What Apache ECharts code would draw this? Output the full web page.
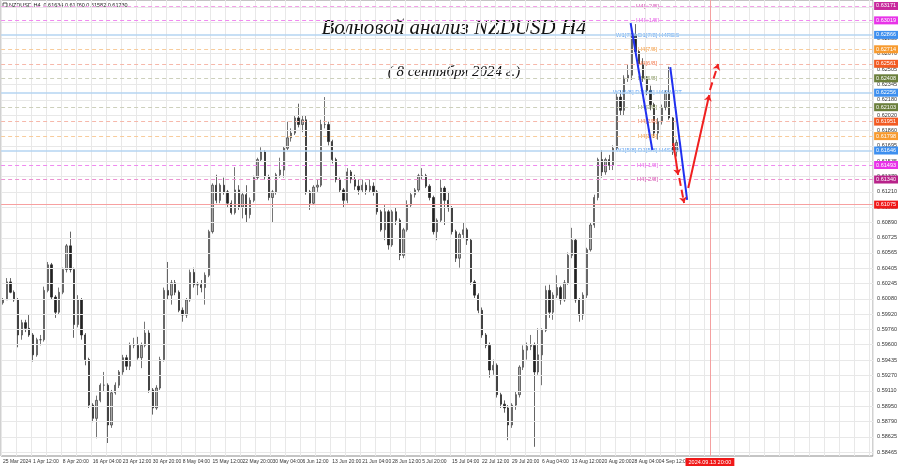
<!DOCTYPE html>
<html><head><meta charset="utf-8">
<script src="https://cdn.jsdelivr.net/npm/echarts@6/dist/echarts.min.js"></script>
<style>html,body{margin:0;padding:0;background:#fff}#c{width:900px;height:468px}</style>
</head><body><div id="c"></div>
<script>
// ---- DATA ----
const openP = [0.6004,0.6007,0.6026,0.6015,0.6007,0.5970,0.5983,0.5977,0.5970,0.5949,
0.5965,0.5965,0.6017,0.6044,0.6010,0.5994,0.6015,0.6039,0.6064,0.6039,
0.5981,0.6007,0.5970,0.5944,0.5896,0.5882,0.5901,0.5917,0.5917,0.5875,
0.5909,0.5917,0.5931,0.5946,0.5937,0.5959,0.5959,0.5946,0.5959,0.5972,
0.5912,0.5893,0.5914,0.5944,0.6017,0.6012,0.6025,0.6015,0.5996,0.5991,
0.6007,0.6036,0.6023,0.6023,0.6020,0.6033,0.6079,0.6128,0.6112,0.6128,
0.6121,0.6109,0.6099,0.6123,0.6105,0.6118,0.6097,0.6112,0.6136,0.6155,
0.6163,0.6137,0.6115,0.6121,0.6139,0.6144,0.6167,0.6178,0.6183,0.6199,
0.6192,0.6197,0.6121,0.6109,0.6126,0.6128,0.6192,0.6192,0.6174,0.6155,
0.6134,0.6123,0.6112,0.6142,0.6134,0.6127,0.6123,0.6128,0.6123,0.6127,
0.6121,0.6100,0.6081,0.6100,0.6065,0.6100,0.6091,0.6054,0.6081,0.6107,
0.6118,0.6123,0.6138,0.6138,0.6127,0.6115,0.6079,0.6091,0.6125,0.6112,
0.6104,0.6079,0.6051,0.6076,0.6081,0.6070,0.6026,0.6012,0.5996,0.5970,
0.5959,0.5933,0.5938,0.5907,0.5897,0.5893,0.5875,0.5896,0.5907,0.5936,
0.5954,0.5958,0.5959,0.5931,0.5949,0.5975,0.6017,0.5994,0.6012,0.6020,
0.6007,0.6025,0.6054,0.6070,0.6007,0.5991,0.6012,0.6060,0.6086,0.6115,
0.6155,0.6142,0.6155,0.6149,0.6167,0.6221,0.6207,0.6241,0.6244,0.6287,
0.6269,0.6255,0.6241,0.6228,0.6213,0.6183,0.6195,0.6210,0.6226,0.6199,
0.61634];
const closeP = [0.6007,0.6026,0.6015,0.6007,0.5970,0.5983,0.5977,0.5970,0.5949,0.5965,
0.5965,0.6017,0.6044,0.6010,0.5994,0.6015,0.6039,0.6064,0.6039,0.5981,
0.6007,0.5970,0.5944,0.5896,0.5882,0.5901,0.5917,0.5917,0.5875,0.5909,
0.5917,0.5931,0.5946,0.5937,0.5959,0.5959,0.5946,0.5959,0.5972,0.5912,
0.5893,0.5914,0.5944,0.6017,0.6012,0.6025,0.6015,0.5996,0.5991,0.6007,
0.6036,0.6023,0.6023,0.6020,0.6033,0.6079,0.6128,0.6112,0.6128,0.6121,
0.6109,0.6099,0.6123,0.6105,0.6118,0.6097,0.6112,0.6136,0.6155,0.6163,
0.6137,0.6115,0.6121,0.6139,0.6144,0.6167,0.6178,0.6183,0.6199,0.6192,
0.6197,0.6121,0.6109,0.6126,0.6128,0.6192,0.6192,0.6174,0.6155,0.6134,
0.6123,0.6112,0.6142,0.6134,0.6127,0.6123,0.6128,0.6123,0.6127,0.6121,
0.6100,0.6081,0.6100,0.6065,0.6100,0.6091,0.6054,0.6081,0.6107,0.6118,
0.6123,0.6138,0.6138,0.6127,0.6115,0.6079,0.6091,0.6125,0.6112,0.6104,
0.6079,0.6051,0.6076,0.6081,0.6070,0.6026,0.6012,0.5996,0.5970,0.5959,
0.5933,0.5938,0.5907,0.5897,0.5893,0.5875,0.5896,0.5907,0.5936,0.5954,
0.5958,0.5959,0.5931,0.5949,0.5975,0.6017,0.5994,0.6012,0.6020,0.6007,
0.6025,0.6054,0.6070,0.6007,0.5991,0.6012,0.6060,0.6086,0.6115,0.6155,
0.6142,0.6155,0.6149,0.6167,0.6221,0.6207,0.6241,0.6244,0.6287,0.6269,
0.6255,0.6241,0.6228,0.6213,0.6183,0.6195,0.6210,0.6226,0.6199,0.6163,
0.61730];
const lowP = [0.6002,0.6007,0.6014,0.6005,0.5957,0.5965,0.5973,0.5968,0.5942,0.5947,
0.5959,0.5963,0.6015,0.6007,0.5988,0.5992,0.6013,0.6036,0.6036,0.5967,
0.5978,0.5965,0.5938,0.5893,0.5878,0.5861,0.5899,0.5910,0.5856,0.5872,
0.5907,0.5914,0.5928,0.5933,0.5933,0.5956,0.5944,0.5935,0.5957,0.5909,
0.5886,0.5891,0.5912,0.5942,0.6007,0.6002,0.6012,0.5994,0.5984,0.5988,
0.6005,0.6020,0.6012,0.6015,0.6002,0.6031,0.6077,0.6109,0.6109,0.6118,
0.6105,0.6097,0.6097,0.6102,0.6093,0.6089,0.6093,0.6110,0.6134,0.6153,
0.6134,0.6112,0.6089,0.6118,0.6136,0.6136,0.6165,0.6174,0.6181,0.6189,
0.6184,0.6118,0.6102,0.6107,0.6121,0.6126,0.6188,0.6170,0.6151,0.6131,
0.6120,0.6104,0.6109,0.6130,0.6123,0.6118,0.6120,0.6118,0.6120,0.6117,
0.6097,0.6079,0.6070,0.6060,0.6063,0.6086,0.6049,0.6051,0.6079,0.6104,
0.6115,0.6121,0.6134,0.6125,0.6112,0.6076,0.6070,0.6089,0.6086,0.6100,
0.6076,0.6047,0.6041,0.6072,0.6065,0.6023,0.6009,0.5993,0.5967,0.5956,
0.5925,0.5928,0.5904,0.5893,0.5888,0.5859,0.5872,0.5891,0.5904,0.5933,
0.5944,0.5954,0.5852,0.5928,0.5917,0.5973,0.5988,0.5986,0.6009,0.6002,
0.6005,0.6023,0.6051,0.6004,0.5984,0.5986,0.6009,0.6058,0.6083,0.6112,
0.6136,0.6139,0.6144,0.6144,0.6165,0.6202,0.6202,0.6237,0.6239,0.6265,
0.6252,0.6237,0.6223,0.6207,0.6178,0.6176,0.6192,0.6207,0.6197,0.6160,
0.61582];
const highP = [0.6009,0.6030,0.6030,0.6017,0.6009,0.5986,0.5986,0.5991,0.5972,0.5967,
0.5970,0.6021,0.6047,0.6046,0.6012,0.6020,0.6041,0.6066,0.6079,0.6041,
0.6012,0.6009,0.5972,0.5946,0.5898,0.5906,0.5919,0.5931,0.5919,0.5912,
0.5920,0.5933,0.5949,0.5949,0.5962,0.5967,0.5968,0.5962,0.5984,0.5975,
0.5914,0.5917,0.5947,0.6020,0.6047,0.6028,0.6028,0.6017,0.5999,0.6009,
0.6039,0.6041,0.6026,0.6028,0.6036,0.6081,0.6130,0.6139,0.6130,0.6136,
0.6123,0.6112,0.6147,0.6128,0.6121,0.6128,0.6115,0.6138,0.6157,0.6168,
0.6165,0.6139,0.6123,0.6141,0.6157,0.6169,0.6195,0.6188,0.6201,0.6214,
0.6201,0.6202,0.6123,0.6128,0.6134,0.6197,0.6221,0.6195,0.6176,0.6157,
0.6136,0.6125,0.6146,0.6144,0.6139,0.6134,0.6134,0.6131,0.6134,0.6131,
0.6123,0.6102,0.6107,0.6102,0.6102,0.6105,0.6093,0.6083,0.6112,0.6121,
0.6125,0.6140,0.6146,0.6140,0.6129,0.6117,0.6093,0.6134,0.6127,0.6121,
0.6106,0.6081,0.6078,0.6089,0.6083,0.6072,0.6028,0.6014,0.5999,0.5972,
0.5962,0.5944,0.5940,0.5909,0.5901,0.5896,0.5898,0.5910,0.5938,0.5959,
0.5962,0.5970,0.5962,0.5977,0.5977,0.6022,0.6023,0.6015,0.6033,0.6022,
0.6028,0.6057,0.6083,0.6072,0.6009,0.6015,0.6062,0.6089,0.6118,0.6157,
0.6165,0.6157,0.6160,0.6170,0.6225,0.6228,0.6244,0.6255,0.6289,0.6298,
0.6271,0.6262,0.6243,0.6233,0.6215,0.6199,0.6213,0.6228,0.6253,0.6200,
0.61760];

const xLabels = ['25 Mar 2024','1 Apr 12:00','8 Apr 20:00','16 Apr 04:00','23 Apr 12:00','30 Apr 20:00',
'8 May 04:00','15 May 12:00','22 May 20:00','30 May 04:00','6 Jun 12:00','13 Jun 20:00','21 Jun 04:00',
'28 Jun 12:00','5 Jul 20:00','15 Jul 04:00','22 Jul 12:00','29 Jul 20:00','6 Aug 04:00','13 Aug 12:00',
'20 Aug 20:00','28 Aug 04:00','4 Sep 12:00'];
const yTicks = [0.58465,0.58625,0.58790,0.58950,0.59110,0.59270,0.59435,0.59600,0.59760,0.59920,
0.60080,0.60245,0.60405,0.60565,0.60725,0.60890,0.61050,0.61210,0.61370,0.61535,0.61695,0.61860,
0.62020,0.62180,0.62345,0.62505,0.62670,0.62830,0.62995,0.63155];

const levelValues = [0.63171,0.63019,0.62866,0.62714,0.62561,0.62408,0.62256,0.62103,0.61951,0.61798,0.61646,0.61493,0.61340];
const levelNames = ['H4[+2/8]','H4[+1/8]','W1[7/8] D1[7/8] H4RES','H4[7/8]','H4[6/8]','H4[5/8]',
'W1[6/8] D1[6/8] H4PIVOT','H4[3/8]','H4[2/8]','H4[1/8]','W1[5/8] D1[5/8] H4SUP','H4[-1/8]','H4[-2/8]'];
const targetLevel = 0.61075;
const lastPrice = 0.61730;
const headerText = 'NZDUSD,H4  0.61634 0.61760 0.61582 0.61730';
const futureDateLabel = '2024.09.13 20:00';
const futureDateBar = 188.9;
const levelLabelBar = 172.2;
const waveLines = [
  [[167.7, 0.62991], [173.5, 0.61651]],
  [[178.3, 0.62527], [182.8, 0.61124]]
];
const forecastLines = [
  [[179.1, 0.61725], [180.4, 0.61388]],
  [[180.7, 0.61356], [182.0, 0.61092]],
  [[183.1, 0.61251], [188.7, 0.62232]],
  [[188.9, 0.62284], [191.1, 0.62559]]
];
const titleMain = 'Волновой анализ NZDUSD H4';
const titleSub = '( 8 сентября 2024 г.)';

// ---- STYLES ----
const N_SLOTS = 233;
const FONT = '"Liberation Sans Narrow", "Liberation Sans", Arial, sans-serif';
const levelStyles = [
  {line:'#f2a0e6', box:'#c8289c', txt:'#c8289c', type:'dashed'},
  {line:'#f08af0', box:'#e833e8', txt:'#e040e0', type:'dashed'},
  {line:'#b4d4f2', box:'#3d8fef', txt:'#3d8fef', type:'solid', w:1.5},
  {line:'#f8cc9c', box:'#f79a2e', txt:'#f08a20', type:'dashed'},
  {line:'#f6b8aa', box:'#f25a22', txt:'#f05a22', type:'dashed'},
  {line:'#cdd0bc', box:'#6b7f3c', txt:'#6b7f3c', type:'dashed'},
  {line:'#b4d4f2', box:'#3d8fef', txt:'#3d8fef', type:'solid', w:1.5},
  {line:'#cdd0bc', box:'#6b7f3c', txt:'#6b7f3c', type:'dashed'},
  {line:'#f6b8aa', box:'#f25a22', txt:'#f05a22', type:'dashed'},
  {line:'#f8cc9c', box:'#f79a2e', txt:'#f08a20', type:'dashed'},
  {line:'#b4d4f2', box:'#3d8fef', txt:'#3d8fef', type:'solid', w:1.5},
  {line:'#f08af0', box:'#e833e8', txt:'#e040e0', type:'dashed'},
  {line:'#ec94d2', box:'#b8238a', txt:'#c8289c', type:'dashed'}
];

// ---- BUILD ----
const cats = new Array(N_SLOTS).fill('');
xLabels.forEach((t, i) => { cats[i * 8] = t; });
const candles = openP.map((o, i) => [o, closeP[i], lowP[i], highP[i]]);

const boxLabel = (bg) => ({
  show: true, position: 'end', distance: 1, formatter: p => Number(p.value).toFixed(5),
  backgroundColor: bg, color: '#fff', fontSize: 5.5, fontFamily: FONT, padding: [1, 2, 1, 2]
});

const levelMarks = levelValues.map((v, i) => ({
  yAxis: v,
  lineStyle: {color: levelStyles[i].line, type: levelStyles[i].type === 'dashed' ? [4, 3] : 'solid', width: levelStyles[i].w || 1},
  label: boxLabel(levelStyles[i].box)
}));
levelMarks.push({yAxis: targetLevel, lineStyle: {color: '#f7a0a0', type: 'solid', width: 1}, label: boxLabel('#f01818')});
levelMarks.push({yAxis: lastPrice, lineStyle: {color: '#000', opacity: 0}, label: boxLabel('#111')});

const chart = echarts.init(document.getElementById('c'), null, {renderer: 'canvas'});
chart.setOption({
  animation: false,
  backgroundColor: '#ffffff',
  grid: {left: 1, right: 23, top: 0, bottom: 12, show: true, borderColor: '#8a8a8a', borderWidth: 1},
  xAxis: [
    {type: 'category', data: cats, boundaryGap: true,
     axisLine: {show: false}, axisTick: {show: false, interval: 3},
     axisLabel: {interval: 0, align: 'left', fontSize: 5, fontFamily: FONT, color: '#333', margin: 3},
     splitLine: {show: true, interval: 3, lineStyle: {color: '#e8e8e8', width: 1}}},
    {type: 'value', min: -0.5, max: N_SLOTS - 0.5, show: false}
  ],
  yAxis: {type: 'value', position: 'right', min: 0.58423, max: 0.63234, scale: true,
    axisLine: {show: false}, axisTick: {show: false}, splitLine: {show: false},
    axisLabel: {customValues: yTicks, formatter: v => v.toFixed(5), fontSize: 5.5, fontFamily: FONT, color: '#333', margin: 4}},
  graphic: [
    {type: 'rect', x: 3, y: 3, shape: {width: 4, height: 4}, style: {fill: '#fff', stroke: '#333', lineWidth: 0.8}},
    {type: 'text', x: 9, y: 5, style: {text: headerText, font: '5.5px ' + FONT, fill: '#222', textVerticalAlign: 'middle'}},
    {type: 'text', x: 454, y: 28, style: {text: titleMain, font: 'italic 21px "Liberation Serif", "DejaVu Serif", serif', fill: '#111', textAlign: 'center', textVerticalAlign: 'middle'}},
    {type: 'text', x: 454, y: 72, style: {text: titleSub, font: 'italic 15px "Liberation Serif", "DejaVu Serif", serif', fill: '#111', textAlign: 'center', textVerticalAlign: 'middle'}}
  ],
  series: [
    {type: 'line', data: [], silent: true, z: 1,
     markLine: {silent: true, precision: 5, symbol: ['none', 'none'], animation: false,
       data: yTicks.map(v => ({yAxis: v})), label: {show: false},
       lineStyle: {color: '#e8e8e8', type: 'solid', width: 1}}},
    {type: 'line', data: [], silent: true, z: 2,
     markLine: {silent: true, precision: 5, symbol: ['none', 'none'], animation: false, data: levelMarks}},
    {type: 'line', xAxisIndex: 1, data: [], silent: true, z: 2,
     markLine: {silent: true, precision: 2, symbol: ['none', 'none'], animation: false,
       data: [{xAxis: futureDateBar, lineStyle: {color: '#f4a0a0', type: 'solid', width: 1},
         label: {show: true, position: 'start', distance: 2, formatter: futureDateLabel,
           backgroundColor: '#f01818', color: '#fff', fontSize: 5.5, fontFamily: FONT, padding: [1, 3, 1, 3]}}]}},
    {type: 'candlestick', data: candles, barWidth: 1.8, z: 3,
     itemStyle: {color: '#a8a8a8', color0: '#222', borderColor: '#3a3a3a', borderColor0: '#222', borderWidth: 0.7}},
    {type: 'scatter', xAxisIndex: 1, symbolSize: 0, z: 4, silent: true,
     data: levelValues.map((v, i) => ({value: [levelLabelBar, v],
       label: {show: true, position: 'inside', formatter: levelNames[i], color: levelStyles[i].txt,
         fontSize: 6, fontFamily: FONT}}))},
    {type: 'lines', coordinateSystem: 'cartesian2d', xAxisIndex: 1, yAxisIndex: 0, z: 5, silent: true,
     symbol: ['none', 'none'],
     data: waveLines.map(c => ({coords: c})),
     lineStyle: {color: '#2030f0', width: 2, opacity: 1}},
    {type: 'lines', coordinateSystem: 'cartesian2d', xAxisIndex: 1, yAxisIndex: 0, z: 5, silent: true,
     symbol: ['none', 'arrow'], symbolSize: 6,
     data: forecastLines.map((c, i) => ({coords: c, lineStyle: {type: i % 2 ? 'dashed' : 'solid'}})),
     lineStyle: {color: '#f02020', width: 2, opacity: 1}}
  ]
});
</script>
</body></html>
